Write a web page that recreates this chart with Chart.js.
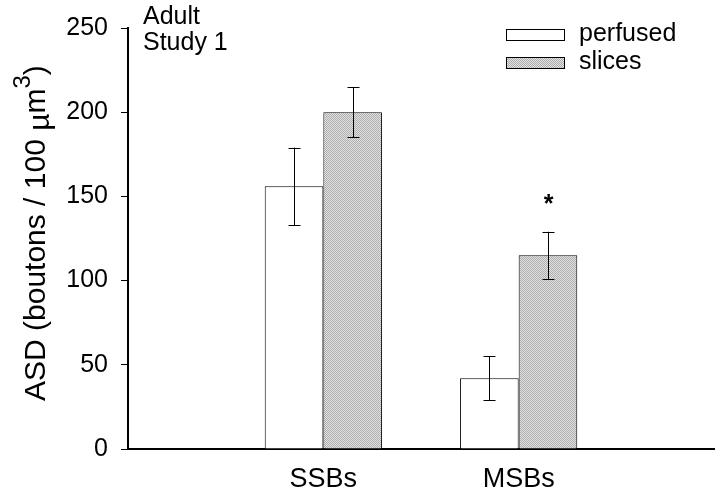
<!DOCTYPE html>
<html>
<head>
<meta charset="utf-8">
<script src="https://cdn.jsdelivr.net/npm/chart.js@4/dist/chart.umd.min.js"></script>
<style>
  body { margin: 0; background: #fff; }
  canvas { display: block; }
</style>
</head>
<body>
<canvas id="chart" width="720" height="487"></canvas>
<script>
// empty slots at both ends keep the two groups where the figure has them
const categories = ['', 'SSBs', 'MSBs', ''];
const perfused = [null, 156, 42, null];
const perfusedErr = [null, 23, 13, null];
const slices = [null, 200, 115, null];
const slicesErr = [null, 15, 14, null];
const yTicks = [0, 50, 100, 150, 200, 250];
const significant = [false, false, true, false]; // asterisk over slices bar

const FONT = 'Arial, "Liberation Sans", sans-serif';

// grey stipple like the printed figure
const makeStipple = () => {
	const c = document.createElement('canvas');
	c.width = 2;
	c.height = 2;
	const g = c.getContext('2d');
	g.fillStyle = '#e2e2e2';
	g.fillRect(0, 0, 2, 2);
	g.fillStyle = '#adadad';
	g.fillRect(0, 0, 1, 1);
	g.fillRect(1, 1, 1, 1);
	return g.createPattern(c, 'repeat');
};
const stipple = makeStipple();

const errs = [perfusedErr, slicesErr];

const errorBars = {
	id: 'errorBars',
	afterDatasetsDraw(chart) {
		const ctx = chart.ctx;
		const y = chart.scales.y;
		ctx.save();
		ctx.strokeStyle = '#000';
		ctx.lineWidth = 1;
		chart.data.datasets.forEach((ds, i) => {
			const meta = chart.getDatasetMeta(i);
			meta.data.forEach((bar, j) => {
				const v = ds.data[j];
				const e = errs[i][j];
				if (v == null || e == null) return;
				const x = Math.round(bar.x) + 0.5;
				const top = y.getPixelForValue(v + e);
				const bot = y.getPixelForValue(v - e);
				ctx.beginPath();
				ctx.moveTo(x, top);
				ctx.lineTo(x, bot);
				ctx.moveTo(x - 6, Math.round(top) + 0.5);
				ctx.lineTo(x + 6, Math.round(top) + 0.5);
				ctx.moveTo(x - 6, Math.round(bot) + 0.5);
				ctx.lineTo(x + 6, Math.round(bot) + 0.5);
				ctx.stroke();
				if (i === 1 && significant[j]) {
					ctx.fillStyle = '#000';
					ctx.font = 'bold 25px ' + FONT;
					ctx.textAlign = 'center';
					ctx.textBaseline = 'middle';
					ctx.fillText('*', x, top - 27);
				}
			});
		});
		ctx.restore();
	}
};

const annotations = {
	id: 'annotations',
	afterDraw(chart) {
		const ctx = chart.ctx;
		ctx.save();
		ctx.fillStyle = '#000';
		ctx.textBaseline = 'alphabetic';
		ctx.textAlign = 'left';
		ctx.font = '25px ' + FONT;
		ctx.fillText('Adult', 143, 24);
		ctx.fillText('Study 1', 143, 50);

		// legend
		const items = [['perfused', '#fff', 29], ['slices', stipple, 57]];
		items.forEach(([label, fill, top]) => {
			ctx.fillStyle = fill;
			ctx.fillRect(506, top, 59, 12);
			ctx.strokeStyle = '#000';
			ctx.lineWidth = 1;
			ctx.strokeRect(506.5, top + 0.5, 58, 11);
			ctx.fillStyle = '#000';
			ctx.fillText(label, 579, top + 12);
		});

		// y axis title, with superscript
		ctx.translate(45, 401);
		ctx.rotate(-Math.PI / 2);
		let x = 0;
		const part = (txt, font, dy) => {
			ctx.font = font;
			ctx.fillText(txt, x, dy);
			x += ctx.measureText(txt).width;
		};
		part('ASD (boutons / 100 ', '30px ' + FONT, 0);
		part('\u00b5', '30px ' + FONT, 4);
		part('m', '30px ' + FONT, 0);
		part('3', '24px ' + FONT, -15);
		part(')', '30px ' + FONT, 0);
		ctx.restore();
	}
};

new Chart(document.getElementById('chart').getContext('2d'), {
	type: 'bar',
	data: {
		labels: categories,
		datasets: [{
			label: 'perfused',
			data: perfused,
			backgroundColor: '#fff',
			borderColor: '#000',
			borderWidth: 1
		}, {
			label: 'slices',
			data: slices,
			backgroundColor: stipple,
			borderColor: '#000',
			borderWidth: 1
		}]
	},
	options: {
		responsive: false,
		animation: false,
		events: [],
		categoryPercentage: 0.6,
		barPercentage: 1.0,
		layout: { padding: { top: 20, right: 3, left: 0, bottom: 0 } },
		plugins: {
			legend: { display: false },
			tooltip: { enabled: false }
		},
		scales: {
			x: {
				offset: false,
				grid: { display: false },
				border: { display: true, color: '#000', width: 2 },
				ticks: {
					color: '#000',
					font: { family: FONT, size: 27 },
					padding: 6,
					maxRotation: 0,
					autoSkip: false
				},
				afterFit: (scale) => { scale.height = 38; }
			},
			y: {
				min: 0,
				max: 250,
				afterBuildTicks: (scale) => { scale.ticks = yTicks.map(v => ({ value: v })); },
				grid: {
					display: true,
					drawOnChartArea: false,
					drawTicks: true,
					tickLength: 7,
					tickColor: '#000',
					tickWidth: 1
				},
				border: { display: true, color: '#000', width: 2 },
				ticks: {
					color: '#000',
					font: { family: FONT, size: 25 },
					padding: 13
				},
				afterFit: (scale) => { scale.width = 128; }
			}
		}
	},
	plugins: [errorBars, annotations]
});
</script>
</body>
</html>
